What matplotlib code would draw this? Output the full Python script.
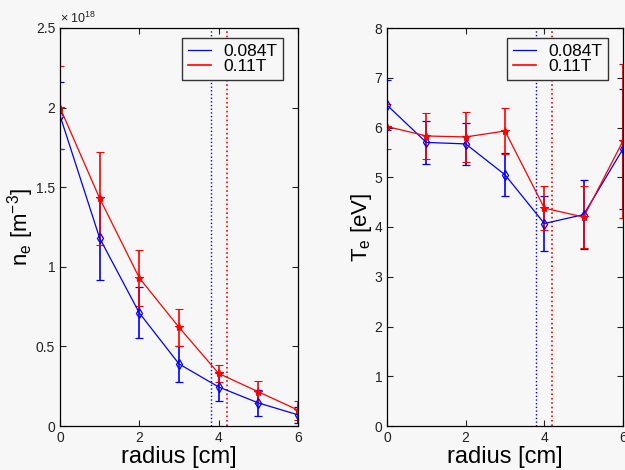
import numpy as np
import matplotlib.pyplot as plt

# radial profiles, two field strengths
radius = [0, 1, 2, 3, 4, 5, 6]

# density in units of 1e18 m^-3
ne_084 = [1.95, 1.18, 0.71, 0.39, 0.245, 0.145, 0.07]
ne_084_err = [0.21, 0.26, 0.16, 0.115, 0.09, 0.08, 0.05]
ne_011 = [2.00, 1.43, 0.93, 0.62, 0.33, 0.215, 0.10]
ne_011_err = [0.26, 0.29, 0.175, 0.115, 0.055, 0.07, 0.06]

# temperature in eV
te_084 = [6.45, 5.70, 5.67, 5.05, 4.07, 4.25, 5.57]
te_084_err = [0.50, 0.43, 0.42, 0.43, 0.55, 0.70, 1.20]
te_011 = [6.02, 5.83, 5.81, 5.93, 4.38, 4.20, 5.73]
te_011_err = [0.45, 0.46, 0.50, 0.46, 0.44, 0.62, 1.55]

# separatrix position for each field
sep_084 = 3.8
sep_011 = 4.2

bg = '#f7f7f7'
plt.rcParams['font.family'] = ['Liberation Sans', 'DejaVu Sans']

fig = plt.figure(figsize=(6.25, 4.7), dpi=100, facecolor=bg)
ax1 = fig.add_axes([60/625, 44/470, 238/625, 398/470])
ax2 = fig.add_axes([387/625, 44/470, 236/625, 398/470])


def draw(ax, y1, e1, y2, e2):
    ax.set_facecolor(bg)
    ax.errorbar(radius, y1, yerr=e1, color='blue', lw=0.9, marker='d',
                mfc='none', ms=5, mew=0.9, capsize=3, elinewidth=1.2,
                label='0.084T')
    ax.errorbar(radius, y2, yerr=e2, color='red', lw=0.9, marker='*',
                ms=6, mew=0.8, capsize=3, elinewidth=1.2, label='0.11T')
    ax.axvline(sep_084, color='blue', ls=':', lw=1)
    ax.axvline(sep_011, color='red', ls=':', lw=1.2)
    ax.set_xlim(0, 6)
    ax.set_xticks([0, 2, 4, 6])
    ax.tick_params(direction='in', top=True, right=True, labelsize=10,
                   length=4, colors='#222222')
    for s in ax.spines.values():
        s.set_linewidth(0.9)
    ax.set_xlabel('radius [cm]', fontsize=17, labelpad=1)
    leg = ax.legend(handles=[
        plt.Line2D([], [], color='blue', lw=0.9),
        plt.Line2D([], [], color='red', lw=1.2)],
        labels=['0.084T', '0.11T'], loc='upper right',
        bbox_to_anchor=(0.937, 0.975), borderaxespad=0, fontsize=12.5,
        fancybox=False, framealpha=1, edgecolor='#333333',
        handlelength=1.3, handletextpad=0.7,
        labelspacing=0.0, borderpad=0.35)
    leg.get_frame().set_facecolor(bg)
    leg.get_frame().set_linewidth(1.0)


draw(ax1, ne_084, ne_084_err, ne_011, ne_011_err)
ax1.set_ylim(0, 2.5)
ax1.set_yticks([0, 0.5, 1, 1.5, 2, 2.5])
ax1.set_yticklabels(['0', '0.5', '1', '1.5', '2', '2.5'])
ax1.set_ylabel('n$_\\mathregular{e}$ [m$^{\\mathregular{-3}}$]', fontsize=16, labelpad=0)
ax1.text(0.0, 1.005, '× 10$^{\\mathregular{18}}$', transform=ax1.transAxes,
         fontsize=9, ha='left', va='bottom', color='#222222')

draw(ax2, te_084, te_084_err, te_011, te_011_err)
ax2.set_ylim(0, 8)
ax2.set_yticks(range(9))
ax2.set_ylabel('T$_\\mathregular{e}$ [eV]', fontsize=16, labelpad=0)

fig.savefig('out.png', dpi=100, facecolor=bg)
